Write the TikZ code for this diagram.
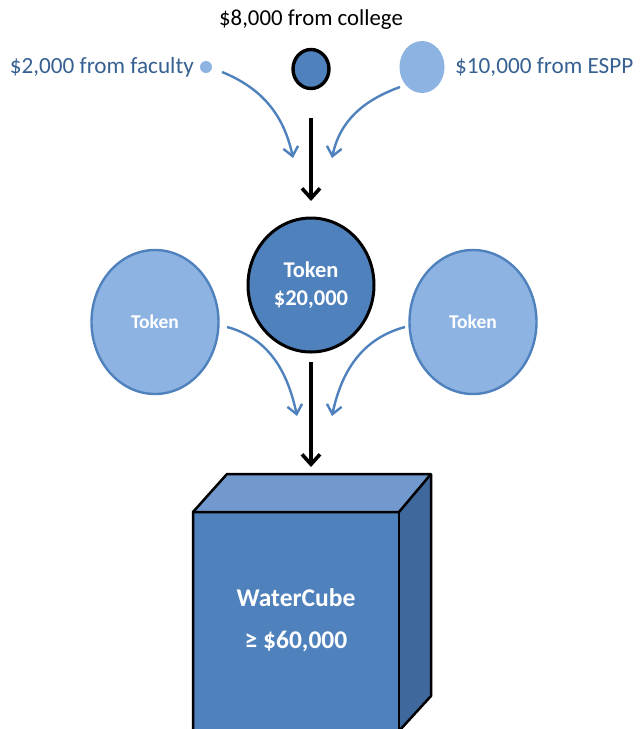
\documentclass[tikz,border=0pt]{standalone}
\usepackage{fontspec}
\setmainfont{Carlito}
\usetikzlibrary{arrows.meta,shapes.geometric}
\definecolor{darkfill}{RGB}{79,129,189}
\definecolor{lightfill}{RGB}{141,179,226}
\definecolor{labelblue}{RGB}{54,96,146}
\definecolor{topface}{RGB}{113,153,206}
\definecolor{sideface}{RGB}{63,104,156}
\tikzset{
  blackarrow/.style={draw=black, line width=3.6pt, -{Straight Barb[length=10pt,width=18pt,line width=3.6pt]}},
  bluearrow/.style={draw=darkfill, line width=2.4pt, -{Straight Barb[length=9pt,width=15pt,line width=2.4pt]}},
  sidelabel/.style={text=labelblue, font=\fontsize{23.2}{27}\selectfont, inner sep=0pt},
  whitebold/.style={text=white, font=\bfseries},
  facecube/.style={draw=black, line width=2.5pt, line join=round},
}
\begin{document}
\begin{tikzpicture}[x=1pt,y=-1pt]
\useasboundingbox (0,0) rectangle (642,729);
% top labels
\node[font=\fontsize{22.8}{26}\selectfont, inner sep=0pt] (collegelbl) at (311,20) {\$8,000 from college};
\node[ellipse, draw=black, line width=3.4pt, fill=darkfill, minimum width=36pt, minimum height=39pt, inner sep=0pt] (college) at (311,69) {};
\node[circle, fill=lightfill, minimum size=12pt, inner sep=0pt] (faculty) at (206,67) {};
\node[sidelabel, anchor=east] (facultylbl) at (194,67) {\$2,000 from faculty};
\node[ellipse, fill=lightfill, minimum width=45pt, minimum height=52pt, inner sep=0pt] (espp) at (422,67) {};
\node[sidelabel, anchor=west] (espplbl) at (455,67) {\$10,000 from ESPP};
% tokens
\node[ellipse, draw=black, line width=3pt, fill=darkfill, minimum width=126pt, minimum height=134pt, inner sep=0pt, whitebold, font=\bfseries\fontsize{22.5}{28}\selectfont, align=center] (token) at (311,285) {Token\\\$20,000};
\node[ellipse, draw=darkfill, line width=2.4pt, fill=lightfill, minimum width=127pt, minimum height=144pt, inner sep=0pt, whitebold, font=\bfseries\fontsize{19.5}{22}\selectfont] (tokenL) at (155,322) {Token};
\node[ellipse, draw=darkfill, line width=2.4pt, fill=lightfill, minimum width=127pt, minimum height=144pt, inner sep=0pt, whitebold, font=\bfseries\fontsize{19.5}{22}\selectfont] (tokenR) at (473,322) {Token};
% cube
\coordinate (fTL) at (193,512);
\coordinate (fTR) at (399,512);
\coordinate (bTL) at (227,474);
\coordinate (bTR) at (431,474);
\coordinate (fBR) at (399,731);
\coordinate (fBL) at (193,731);
\coordinate (bBR) at (431,696);
\fill[topface] (fTL) -- (bTL) -- (bTR) -- (fTR) -- cycle;
\fill[sideface] (fTR) -- (bTR) -- (bBR) -- (fBR) -- cycle;
\fill[darkfill] (fTL) -- (fTR) -- (fBR) -- (fBL) -- cycle;
\draw[facecube] (fBL) -- (fTL) -- (bTL) -- (bTR) -- (bBR) -- (fBR);
\draw[facecube] (fTL) -- (fTR) -- (bTR);
\draw[facecube] (fTR) -- (fBR);
\node[whitebold, font=\bfseries\fontsize{25.5}{30}\selectfont, inner sep=0pt] (cubename) at (296,598) {WaterCube};
\node[whitebold, font=\bfseries\fontsize{25.5}{30}\selectfont, inner sep=0pt] (cubeval) at (296,642) {≥ \$60,000};
% connectors
\coordinate (a1s) at (222,72);
\coordinate (a1e) at (293,158);
\coordinate (a2s) at (400,87);
\coordinate (a2e) at (332,158);
\draw[bluearrow] (a1s) to[out=-22,in=102] (a1e);
\draw[bluearrow] (a2s) to[out=200,in=78] (a2e);
\coordinate (c1s) at (311,118);
\coordinate (c1e) at (311,201);
\draw[blackarrow] (c1s) -- (c1e);
\coordinate (b1s) at (227,327);
\coordinate (b1e) at (297,416);
\coordinate (b2s) at (405,327);
\coordinate (b2e) at (332,416);
\draw[bluearrow] (b1s) to[out=-15,in=102] (b1e);
\draw[bluearrow] (b2s) to[out=195,in=78] (b2e);
\coordinate (c2s) at (311,362);
\coordinate (c2e) at (311,467);
\draw[blackarrow] (c2s) -- (c2e);
\end{tikzpicture}
\end{document}
